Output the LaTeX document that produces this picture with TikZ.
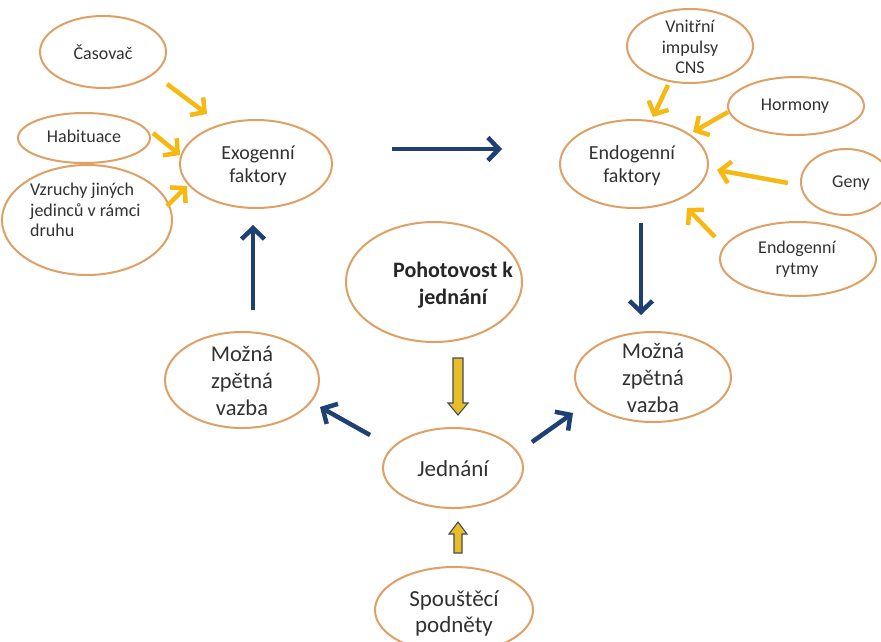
\documentclass[tikz,border=0pt]{standalone}
\usepackage{fontspec}
\setmainfont{Carlito}
\usetikzlibrary{shapes.geometric,arrows.meta,calc}
\definecolor{ellc}{RGB}{222,160,100}
\definecolor{goldc}{RGB}{246,184,18}
\definecolor{navyc}{RGB}{31,64,115}
\definecolor{txtc}{RGB}{50,50,50}
\definecolor{blkc}{RGB}{232,190,40}
\definecolor{blklinec}{RGB}{70,75,90}
\begin{document}
\begin{tikzpicture}[x=1pt,y=-1pt,
  ellnode/.style={ellipse, draw=ellc, line width=2pt, inner sep=0pt, fill=white},
  lbl/.style={inner sep=0pt, text=txtc, align=center},
  smalltxt/.style={lbl, font=\fontsize{18}{20.5}\selectfont},
  midtxt/.style={lbl, font=\fontsize{20}{23}\selectfont},
  bigtxt/.style={lbl, font=\fontsize{22.5}{27}\selectfont},
  yarr/.style={draw=goldc, line width=4.5pt, -{Straight Barb[length=10pt,width=22pt]}},
  barr/.style={draw=navyc, line width=4.5pt, -{Straight Barb[length=11pt,width=23pt]}},
  blockarr/.style={fill=blkc, draw=blklinec, line width=1.1pt, line join=miter}
]
\clip (0,0) rectangle (881,641);
\fill[white] (0,0) rectangle (881,641);

% ellipses
\node[ellnode, minimum width=126pt, minimum height=72pt] (cas) at (103,52) {};
\node[ellnode, minimum width=132pt, minimum height=50pt] (hab) at (84,138) {};
\node[ellnode, minimum width=170pt, minimum height=110pt] (vzr) at (87,220) {};
\node[ellnode, minimum width=152pt, minimum height=88pt] (exo) at (256,164) {};
\node[ellnode, minimum width=126pt, minimum height=74pt] (vni) at (690,46) {};
\node[ellnode, minimum width=136pt, minimum height=58pt] (hor) at (796,106) {};
\node[ellnode, minimum width=90pt, minimum height=66pt] (gen) at (846,182) {};
\node[ellnode, minimum width=156pt, minimum height=74pt] (ery) at (798,259) {};
\node[ellnode, minimum width=148pt, minimum height=88pt] (endo) at (634,164) {};
\node[ellnode, minimum width=176pt, minimum height=120pt] (poh) at (434,282) {};
\node[ellnode, minimum width=154pt, minimum height=96pt] (mzl) at (242,380) {};
\node[ellnode, minimum width=156pt, minimum height=90pt] (mzr) at (653,377) {};
\node[ellnode, minimum width=140pt, minimum height=80pt] (jed) at (453,468) {};
\node[ellnode, minimum width=158pt, minimum height=86pt] (spo) at (454,610) {};

% texts
\node[smalltxt] (cas-t) at (103,52) {Časovač};
\node[smalltxt] (hab-t) at (84,136) {Habituace};
\node[smalltxt, align=left, anchor=west] (vzr-t) at (30,210) {Vzruchy jiných\\jedinců v rámci\\druhu};
\node[midtxt] (exo-t) at (258,166) {Exogenní\\faktory};
\node[smalltxt] (vni-t) at (690,47) {Vnitřní\\impulsy\\CNS};
\node[smalltxt] (hor-t) at (795,106) {Hormony};
\node[smalltxt] (gen-t) at (851,183) {Geny};
\node[smalltxt] (ery-t) at (797,259) {Endogenní\\rytmy};
\node[midtxt] (endo-t) at (632,166) {Endogenní\\faktory};
\node[lbl, text=black!85, font=\bfseries\fontsize{22}{27}\selectfont] (poh-t) at (453,285) {Pohotovost k\\jednání};
\node[bigtxt] (mzl-t) at (242,381) {Možná\\zpětná\\vazba};
\node[bigtxt] (mzr-t) at (653,378) {Možná\\zpětná\\vazba};
\node[bigtxt, font=\fontsize{23}{27}\selectfont] (jed-t) at (453,469) {Jednání};
\node[bigtxt, font=\fontsize{23}{26}\selectfont] (spo-t) at (454,613) {Spouštěcí\\podněty};

% yellow arrows
\draw[yarr] ($(cas)+(64,32)$) -- ($(exo)+(-49,-50)$);
\draw[yarr] ($(hab)+(69,-5)$) -- ($(exo)+(-76,-9)$);
\draw[yarr] ($(vzr)+(80,-14)$) -- ($(exo)+(-69,22)$);
\draw[yarr] ($(vni)+(-22,39)$) -- ($(endo)+(19,-47)$);
\draw[yarr] ($(hor)+(-68,6)$) -- ($(endo)+(59,-32)$);
\draw[yarr] ($(gen)+(-58,1)$) -- ($(endo)+(83,6)$);
\draw[yarr] ($(ery)+(-83,-22)$) -- ($(endo)+(53,44)$);

% blue arrows
\draw[barr] ($(exo)+(136,-15)$) -- ($(endo)+(-132,-15)$);
\draw[barr] ($(endo)+(7,59)$) -- ($(mzr)+(-12,-62)$);
\draw[barr] ($(mzl)+(11,-70)$) -- ($(exo)+(-3,61)$);
\draw[barr] ($(jed)+(-83,-33)$) -- ($(mzl)+(78,27)$);
\draw[barr] ($(jed)+(79,-26)$) -- ($(mzr)+(-80,36)$);

% block arrows
\coordinate (b1s) at ($(poh)+(24,76)$);
\coordinate (b1e) at ($(jed)+(5,-53)$);
\draw[blockarr] ($(b1s)+(-5,0)$) -- ($(b1s)+(5,0)$) -- ($(b1e)+(5,-12)$) -- ($(b1e)+(10,-12)$) -- (b1e) -- ($(b1e)+(-10,-12)$) -- ($(b1e)+(-5,-12)$) -- cycle;
\coordinate (b2s) at ($(spo)+(4,-57)$);
\coordinate (b2e) at ($(jed)+(5,54)$);
\draw[blockarr] ($(b2s)+(-4,0)$) -- ($(b2s)+(4,0)$) -- ($(b2e)+(4,12)$) -- ($(b2e)+(9,12)$) -- (b2e) -- ($(b2e)+(-9,12)$) -- ($(b2e)+(-4,12)$) -- cycle;
\end{tikzpicture}
\end{document}
